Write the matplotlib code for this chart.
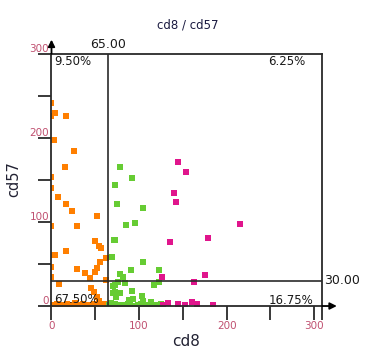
import numpy as np
import matplotlib
matplotlib.use('Agg')
import matplotlib.pyplot as plt

# cluster 1 (orange), mostly left of the x gate
orange_x = [0, 0, 4, 17, 3, 26, 15, 0, 0, 7, 17, 23, 52, 29, 0, 50, 54, 56, 16, 4, 0, 62,
            55, 0, 29, 52, 38, 50, 44, 62, 0, 9, 45, 48, 52, 54,
            1, 3, 6, 9, 12, 15, 18, 21, 24, 27, 30, 33, 36, 39, 42, 45, 48, 51, 54, 57, 60, 63]
orange_y = [242, 226, 230, 226, 198, 184, 166, 153, 141, 130, 121, 113, 107, 95, 95, 77, 72, 69, 65, 61, 61, 57,
            52, 47, 44, 45, 39, 41, 33, 31, 35, 26, 22, 17, 11, 6,
            1, 0, 2, 1, 0, 1, 2, 0, 1, 3, 0, 1, 2, 0, 1, 0, 2, 1, 3, 0, 2, 1]

# cluster 2 (green)
green_x = [78, 92, 72, 75, 105, 85, 95, 71, 73, 69.5, 105, 91, 123, 78, 82, 117.5, 123, 84, 70, 73, 76,
           78, 70, 74, 72, 92, 103, 88, 93, 104, 114, 68, 125,
           66, 69, 72, 75, 78, 81, 84, 87, 90, 96, 99, 102, 108, 111, 117, 120]
green_y = [165, 152, 144, 121, 117, 96, 99, 79, 78, 58, 52, 43, 43, 38, 35, 25, 29, 27, 24, 25, 28,
           16, 15, 11, 17, 18, 12, 7, 8, 6, 5, 4, 2,
           1, 0, 2, 1, 0, 1, 0, 2, 1, 0, 1, 2, 0, 1, 0, 1]

# cluster 3 (magenta)
magenta_x = [145, 154, 140, 142, 135, 179, 215, 175, 126, 163, 133.5, 144, 153, 160, 166, 184, 127]
magenta_y = [172, 160, 134, 124, 76, 81, 98, 36.5, 34, 29, 4, 2.5, 1, 5, 2, 1.5, 1]

gate_x = 65.0
gate_y = 30.0
quad_pct = ['9.50%', '6.25%', '67.50%', '16.75%']  # UL, UR, LL, LR

tick_col = '#c05070'
line_col = '#2a2a2a'

fig = plt.figure(figsize=(3.74, 3.56), dpi=100)
ax = fig.add_axes([0.1377, 0.1404, 0.7233, 0.7079])

ax.scatter(orange_x, orange_y, s=15, marker='s', color='#ff7f00', linewidths=0, zorder=2)
ax.scatter(green_x, green_y, s=15, marker='s', color='#66cc33', linewidths=0, zorder=2)
ax.scatter(magenta_x, magenta_y, s=15, marker='s', color='#e0158c', linewidths=0, zorder=2)

ax.set_xlim(0, 309)
ax.set_ylim(0, 300)

ax.axvline(gate_x, color=line_col, lw=1.2, zorder=3)
ax.axhline(gate_y, color=line_col, lw=1.2, zorder=3)

for sp in ax.spines.values():
    sp.set_color(line_col)
    sp.set_linewidth(1.3)

xt = [0, 50, 100, 150, 200, 250, 300, 309]
ax.set_xticks(xt)
ax.set_xticklabels(['0', '', '100', '', '200', '', '300', ''])
yt = [0, 50, 100, 150, 200, 250, 300]
ax.set_yticks(yt)
ax.set_yticklabels(['0', '', '100', '', '200', '', '300'])
ax.tick_params(axis='x', direction='out', length=10, width=1.3, color=line_col,
               labelsize=7.5, labelcolor=tick_col, pad=1)
ax.tick_params(axis='y', direction='out', length=9.4, width=1.3, color=line_col,
               labelsize=7.5, labelcolor=tick_col, pad=-7.6)
for lab in ax.get_yticklabels():
    lab.set_va('bottom')

# axis arrows
ax.annotate('', xy=(0, 1.068), xycoords='axes fraction', xytext=(0, 0.99),
            arrowprops=dict(arrowstyle='-|>', color='black', lw=1.3, mutation_scale=10),
            annotation_clip=False)
ax.annotate('', xy=(1.065, 0), xycoords='axes fraction', xytext=(0.99, 0),
            arrowprops=dict(arrowstyle='-|>', color='black', lw=1.3, mutation_scale=10),
            annotation_clip=False)

# gate values
ax.text(gate_x, 304, '%.2f' % gate_x, ha='center', va='bottom', fontsize=9, color='#1a1a1a')
ax.text(311, gate_y, '%.2f' % gate_y, ha='left', va='center', fontsize=9, color='#1a1a1a')

# quadrant percentages
ax.text(3, 290.5, quad_pct[0], ha='left', va='center', fontsize=8.5, color='#1a1a1a')
ax.text(290, 290.5, quad_pct[1], ha='right', va='center', fontsize=8.5, color='#1a1a1a')
ax.text(3, 8, quad_pct[2], ha='left', va='center', fontsize=8.5, color='#1a1a1a', zorder=4)
ax.text(299, 7, quad_pct[3], ha='right', va='center', fontsize=8.5, color='#1a1a1a')

fig.text(188 / 374, 1 - 25 / 356, 'cd8 / cd57', ha='center', va='center', fontsize=8.5, color='#1a1a40')
fig.text(186 / 374, 1 - 342 / 356, 'cd8', ha='center', va='center', fontsize=11, color='#222233')
fig.text(14 / 374, 1 - 179 / 356, 'cd57', ha='center', va='center', fontsize=10.5, rotation=90, color='#222233')

fig.savefig('out.png', dpi=100)
